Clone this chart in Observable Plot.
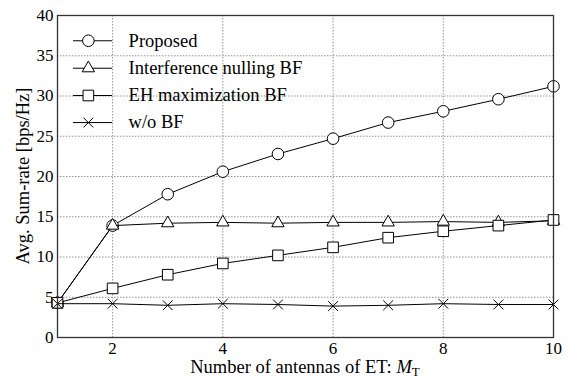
<!DOCTYPE html>
<html><head><meta charset="utf-8">
<script src="https://cdn.jsdelivr.net/npm/d3@7"></script>
<script src="https://cdn.jsdelivr.net/npm/@observablehq/plot@0.6"></script>
<style>body{margin:0;background:#fff} svg{display:block}</style>
</head><body><div id="chart"></div>
<script>
const antennas = [1, 2, 3, 4, 5, 6, 7, 8, 9, 10];
const proposed = [4.3, 13.9, 17.8, 20.6, 22.8, 24.7, 26.7, 28.1, 29.6, 31.2];
const nulling = [4.3, 13.9, 14.2, 14.3, 14.2, 14.3, 14.3, 14.4, 14.3, 14.5];
const ehMax = [4.3, 6.1, 7.8, 9.2, 10.2, 11.2, 12.4, 13.2, 13.9, 14.6];
const woBF = [4.2, 4.2, 4.0, 4.2, 4.1, 3.9, 4.0, 4.2, 4.1, 4.1];
const seriesNames = ["Proposed", "Interference nulling BF", "EH maximization BF", "w/o BF"];
const seriesSymbols = ["circle", "triangle", "square", "times"];
const seriesR = [5.8, 4.6, 6.0, 4.5];
const xTicks = [2, 4, 6, 8, 10];
const yTicks = [0, 5, 10, 15, 20, 25, 30, 35, 40];
const xGrid = [2, 4, 6, 8];
const yGrid = [5, 10, 15, 20, 25, 30, 35];
// legend layout in data units
const legendRowsY = [36.86, 33.45, 30.06, 26.7];
const legendLine = [1.29, 2.0];
const legendMarkX = 1.56;
const legendTextX = 2.29;

const values = [proposed, nulling, ehMax, woBF];
const serif = "Liberation Serif";

const seriesMarks = seriesNames.flatMap((name, i) => {
  const rows = antennas.map((x, j) => ({x, y: values[i][j]}));
  return [
    Plot.line(rows, {x: "x", y: "y", stroke: "#000", strokeWidth: 1}),
    Plot.dot(rows, {x: "x", y: "y", symbol: seriesSymbols[i], r: seriesR[i], fill: "#fff", stroke: "#000", strokeWidth: 1})
  ];
});

const legendMarks = seriesNames.flatMap((name, i) => {
  const row = [{name, y: legendRowsY[i]}];
  return [
    Plot.ruleY(row, {y: "y", x1: legendLine[0], x2: legendLine[1], stroke: "#000", strokeWidth: 1}),
    Plot.dot(row, {x: legendMarkX, y: "y", symbol: seriesSymbols[i], r: seriesR[i], fill: "#fff", stroke: "#000", strokeWidth: 1}),
    Plot.text(row, {x: legendTextX, y: "y", text: "name", textAnchor: "start", fontSize: 18.5, fill: "#000"})
  ];
});

const chart = Plot.plot({
  width: 571, height: 379,
  marginLeft: 57, marginRight: 18, marginTop: 15, marginBottom: 42,
  style: {fontSize: "17px", color: "#000", background: "#fff"},
  x: {domain: [1, 10]},
  y: {domain: [0, 40]},
  marks: [
    Plot.gridX(xGrid, {stroke: "#888", strokeOpacity: 1, strokeWidth: 0.9, strokeDasharray: "1.5,1.5"}),
    Plot.gridY(yGrid, {stroke: "#888", strokeOpacity: 1, strokeWidth: 0.9, strokeDasharray: "1.5,1.5"}),
    Plot.axisX(xTicks, {tickSize: 0, tickPadding: 4, label: null, fontSize: 17}),
    Plot.axisY(yTicks, {tickSize: 0, tickPadding: 4, label: null, fontSize: 17}),
    ...seriesMarks,
    ...legendMarks,
    Plot.frame({stroke: "#333", strokeWidth: 1.3})
  ]
});

const svg = d3.select(chart);
const xl = svg.append("text")
  .attr("x", 305).attr("y", 373)
  .attr("text-anchor", "middle")
  .attr("font-size", 18.5).attr("fill", "#000");
xl.append("tspan").text("Number of antennas of ET: ");
xl.append("tspan").attr("font-style", "italic").text("M");
xl.append("tspan").attr("font-size", 13).attr("dy", 3).text("T");
svg.append("text")
  .attr("transform", "translate(29,176) rotate(-90)")
  .attr("text-anchor", "middle")
  .attr("font-size", 18.5).attr("fill", "#000")
  .text("Avg. Sum-rate [bps/Hz]");

svg.attr("font-family", serif).style("font-family", serif);
svg.selectAll("g").attr("font-family", null);
svg.selectAll("text").attr("font-family", serif).style("font-family", serif);

document.getElementById("chart").appendChild(chart);
</script>
</body></html>
